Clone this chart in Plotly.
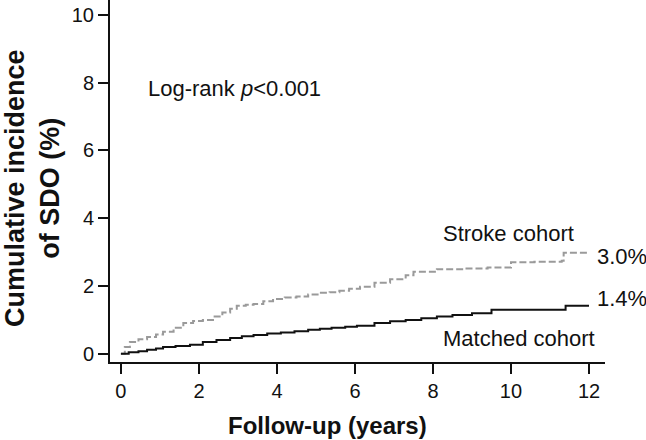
import plotly.graph_objects as go

# Stroke cohort (dashed gray)
stroke_x = [0, 0.1, 0.23, 0.45, 0.67, 0.9, 1.08, 1.35, 1.6, 1.85, 2.1, 2.36, 2.6, 2.8, 2.97, 3.2, 3.4, 3.65, 3.9, 4.2, 4.5, 4.8, 5.1, 5.35, 5.6, 5.85, 6.13, 6.5, 6.9, 7.3, 7.5, 8.1, 8.8, 9.4, 10.0, 10.6, 11.3, 11.35, 12.0]
stroke_y = [0, 0.2, 0.35, 0.43, 0.5, 0.57, 0.65, 0.77, 0.91, 0.97, 1.0, 1.1, 1.22, 1.33, 1.42, 1.45, 1.47, 1.55, 1.62, 1.66, 1.69, 1.75, 1.8, 1.82, 1.86, 1.92, 1.98, 2.1, 2.2, 2.32, 2.42, 2.5, 2.52, 2.55, 2.7, 2.72, 2.75, 2.98, 2.98]

# Matched cohort (solid black)
matched_x = [0, 0.2, 0.45, 0.67, 0.9, 1.08, 1.4, 1.77, 2.1, 2.45, 2.8, 3.1, 3.4, 3.75, 4.1, 4.45, 4.8, 5.1, 5.4, 5.75, 6.05, 6.5, 6.9, 7.3, 7.7, 8.1, 8.5, 9.0, 9.5, 11.4, 12.0]
matched_y = [0, 0.05, 0.08, 0.12, 0.16, 0.2, 0.23, 0.27, 0.35, 0.41, 0.47, 0.52, 0.56, 0.6, 0.63, 0.67, 0.71, 0.74, 0.77, 0.8, 0.83, 0.91, 0.96, 1.0, 1.05, 1.1, 1.15, 1.2, 1.3, 1.42, 1.42]

x_ticks = [0, 2, 4, 6, 8, 10, 12]
y_ticks = [0, 2, 4, 6, 8, 10]

FONT = "Arial, Liberation Sans, sans-serif"

fig = go.Figure()
fig.add_trace(go.Scatter(x=stroke_x, y=stroke_y, mode="lines", line_shape="hv",
                         line=dict(color="#9a9a9a", width=2, dash="7px,3px"), showlegend=False))
fig.add_trace(go.Scatter(x=matched_x, y=matched_y, mode="lines", line_shape="hv",
                         line=dict(color="#111111", width=2), showlegend=False))

fig.update_layout(
    width=646, height=440,
    margin=dict(l=110, r=41, t=0, b=78),
    paper_bgcolor="white", plot_bgcolor="white",
    font=dict(family=FONT, size=20, color="#111111"),
    xaxis=dict(range=[-0.28, 12.41], tickvals=x_ticks, showline=True, linecolor="#111111", linewidth=2,
               ticks="outside", ticklen=10, tickwidth=2, tickcolor="#111111", showgrid=False, zeroline=False,
               tickfont=dict(size=20)),
    yaxis=dict(range=[-0.24, 10.44], tickvals=y_ticks, showline=True, linecolor="#111111", linewidth=2,
               ticks="outside", ticklen=10, tickwidth=2, tickcolor="#111111", showgrid=False, zeroline=False,
               tickfont=dict(size=20)),
)

anns = [
    dict(text="<b>Follow-up (years)</b>", xref="paper", yref="paper", x=(327-110)/495, y=-(425-362)/362,
         xanchor="center", yanchor="middle", font=dict(size=24)),
    dict(text="<b>Cumulative incidence<br>of SDO (%)</b>", xref="paper", yref="paper", x=(32-110)/495,
         y=(362-188)/362, xanchor="center", yanchor="middle", textangle=-90, font=dict(size=27)),
    dict(text="Log-rank <i>p</i><0.001", xref="paper", yref="paper", x=(146-110)/495, y=(362-88)/362,
         xanchor="left", yanchor="middle", font=dict(size=22)),
    dict(text="Stroke cohort", xref="paper", yref="paper", x=(441-110)/495, y=(362-233)/362,
         xanchor="left", yanchor="middle", font=dict(size=22)),
    dict(text="Matched cohort", xref="paper", yref="paper", x=(441-110)/495, y=(362-338)/362,
         xanchor="left", yanchor="middle", font=dict(size=22)),
    dict(text="3.0%", xref="paper", yref="paper", x=(595-110)/495, y=(362-256)/362,
         xanchor="left", yanchor="middle", font=dict(size=22)),
    dict(text="1.4%", xref="paper", yref="paper", x=(595-110)/495, y=(362-298)/362,
         xanchor="left", yanchor="middle", font=dict(size=22)),
]
for a in anns:
    a["showarrow"] = False
    fig.add_annotation(**a)

fig.write_html("out.html", post_script="document.body.style.margin='0';",
               config={"displayModeBar": False})
